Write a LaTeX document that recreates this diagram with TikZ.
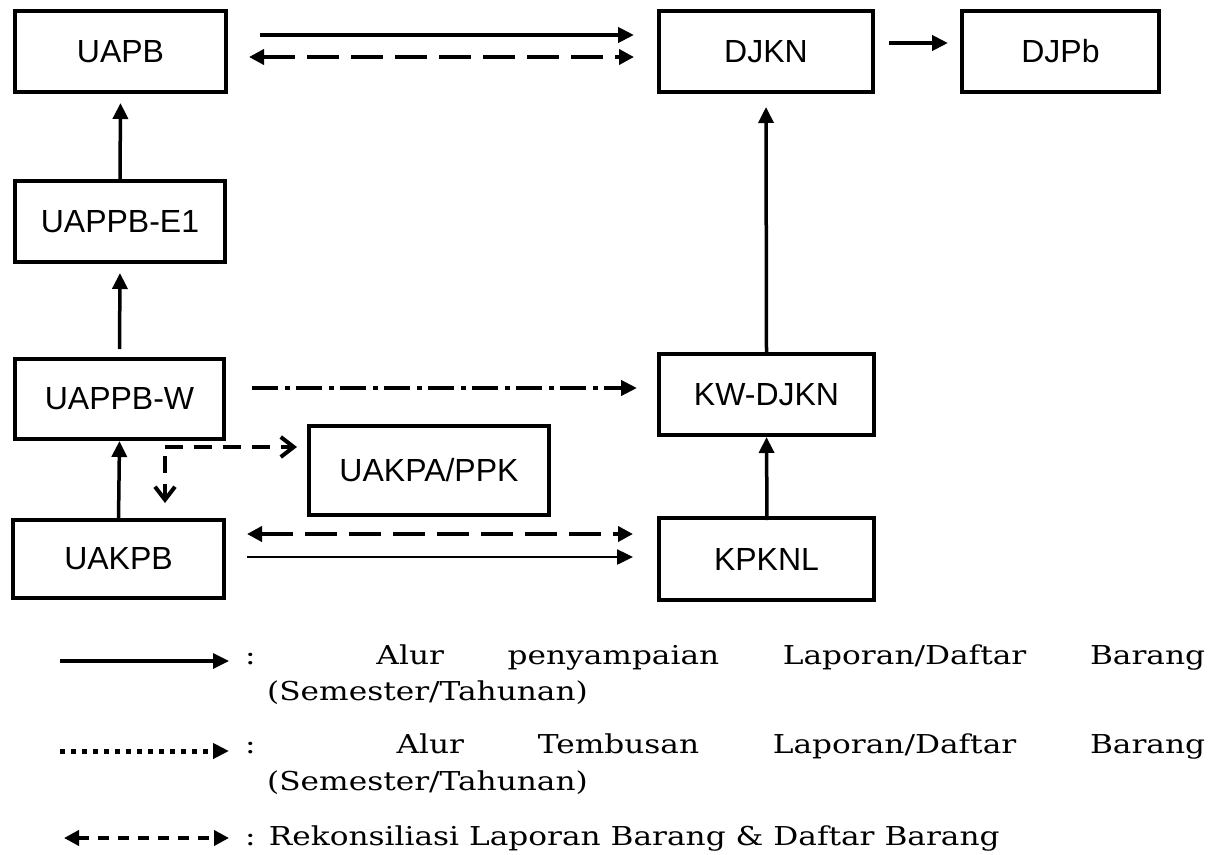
\documentclass[tikz,border=0pt]{standalone}
\usepackage{fontspec}
\setmainfont{Liberation Sans}
\newfontfamily\legendfont[FakeStretch=1.2]{DejaVu Serif}
\usetikzlibrary{arrows.meta,calc}
\begin{document}
\begin{tikzpicture}[x=1pt,y=-1pt,
  box/.style={draw,line width=4pt,inner sep=0pt,minimum height=81pt,
    font=\fontsize{32}{38}\selectfont},
  tri/.style={-{Triangle[length=16pt,width=15pt]}},
  dtri/.style={{Triangle[length=15pt,width=15pt]}-{Triangle[length=15pt,width=15pt]}},
  longdash/.style={dash pattern=on 32pt off 12pt},
  dashdotline/.style={dash pattern=on 26pt off 7pt on 5pt off 6pt},
  shortdash/.style={dash pattern=on 18pt off 11pt},
  barb/.style={-{Straight Barb[length=13pt,width=20pt]}},
  legtext/.style={anchor=base west,inner sep=0pt,font=\legendfont\fontsize{26}{31}\selectfont}
]
\useasboundingbox (0,0) rectangle (1218,854);

% boxes
\node[box,minimum width=211pt] (UAPB) at (120.5,51.5) {UAPB};
\node[box,minimum width=214pt] (DJKN) at (766,51.5) {DJKN};
\node[box,minimum width=197pt] (DJPb) at (1060.5,51.5) {DJPb};
\node[box,minimum width=210pt] (E1) at (120,221.5) {UAPPB-E1};
\node[box,minimum width=209pt,minimum height=80pt] (W) at (119.5,399) {UAPPB-W};
\node[box,minimum width=240pt,minimum height=89pt] (PPK) at (429,470.5) {UAKPA/PPK};
\node[box,minimum width=211pt,minimum height=78pt] (UAKPB) at (118.5,559) {UAKPB};
\node[box,minimum width=215pt] (KW) at (766.5,394.5) {KW-DJKN};
\node[box,minimum width=215pt,minimum height=82pt] (KPKNL) at (766.5,559) {KPKNL};

% top arrows
\draw[tri,line width=4pt] ($(UAPB.east)+(32,-16.5)$) -- ($(DJKN.west)+(-23,-16.5)$);
\draw[dtri,longdash,line width=4pt] ($(UAPB.east)+(21,5.5)$) -- ($(DJKN.west)+(-23,5.5)$);
\draw[tri,line width=4pt] ($(DJKN.east)+(14,-8.5)$) -- ($(DJPb.west)+(-12,-8.5)$);

% vertical left
\draw[tri,line width=3.5pt] (E1.north) -- ($(UAPB.south)+(0,9)$);
\draw[tri,line width=3.5pt] ($(W.north)+(0,-8)$) -- ($(E1.south)+(0,9)$);
\draw[tri,line width=3.5pt] ($(UAKPB.north)+(0,2)$) -- (W.south);

% dash-dot
\draw[tri,dashdotline,line width=4.5pt] ($(W.east)+(26,-11)$) -- ($(KW.west)+(-20,-6.5)$);

% dashed open arrows from split point
\coordinate (split) at ($(W.south)+(45.5,6)$);
\draw[barb,shortdash,line width=4pt] (split) -- ($(PPK.west)+(-10,-23.5)$);
\draw[barb,dash pattern=on 17pt off 11pt,line width=4pt,shorten <=9pt] (split) -- ($(UAKPB.north)+(46.5,-15)$);

% bottom arrows
\draw[dtri,longdash,line width=4pt] ($(UAKPB.east)+(21,-25)$) -- ($(KPKNL.west)+(-24,-25)$);
\draw[tri,line width=2.5pt] ($(UAKPB.east)+(21,-2)$) -- ($(KPKNL.west)+(-24,-2)$);

% right vertical
\draw[tri,line width=3.5pt] ($(KPKNL.north)+(0.5,4)$) -- (KW.south);
\draw[tri,line width=3.5pt] (KW.north) -- ($(DJKN.south)+(0,13)$);

% legend
\coordinate (l1a) at (60,661); \coordinate (l1b) at (229,661);
\coordinate (l2a) at (60,751); \coordinate (l2b) at (229,751);
\coordinate (l3a) at (64,838); \coordinate (l3b) at (229,838);
\draw[tri,line width=3.3pt] (l1a) -- (l1b);
\draw[tri,dash pattern=on 5pt off 6pt,line width=5pt] (l2a) -- (l2b);
\draw[dtri,dash pattern=on 11pt off 9pt,line width=4pt] (l3a) -- (l3b);

\node[legtext] (t1) at (245,664) {\makebox[960pt][s]{: Alur penyampaian Laporan/Daftar Barang}};
\node[legtext] (t2) at (267,700) {(Semester/Tahunan)};
\node[legtext] (t3) at (245,753) {\makebox[960pt][s]{: Alur Tembusan Laporan/Daftar Barang}};
\node[legtext] (t4) at (267,790) {(Semester/Tahunan)};
\node[legtext] (t5) at (245,845) {: Rekonsiliasi Laporan Barang \& Daftar Barang};
\end{tikzpicture}
\end{document}
